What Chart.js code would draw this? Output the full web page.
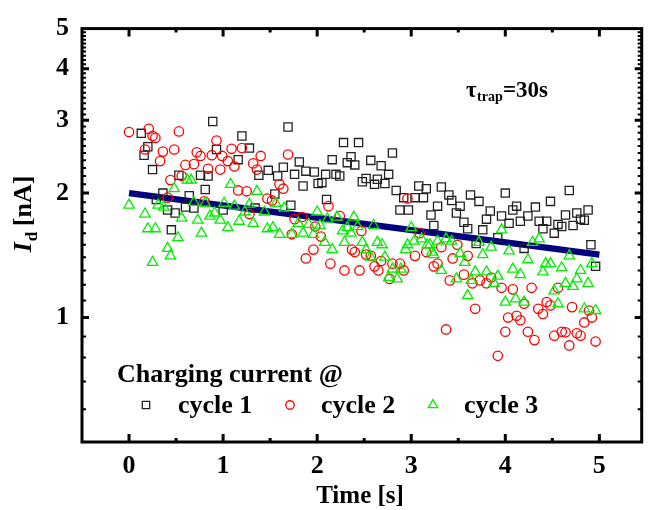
<!DOCTYPE html>
<html>
<head>
<meta charset="utf-8">
<script src="https://cdn.jsdelivr.net/npm/chart.js@4/dist/chart.umd.min.js"></script>
<style>
html,body{margin:0;padding:0;background:#fff;}
#wrap{width:649px;height:510px;}
</style>
</head>
<body>
<div id="wrap"><canvas id="c" width="649" height="510"></canvas></div>
<script>
// ---- data ----
const timeC1 = [0.13,0.16,0.20,0.25,0.29,0.36,0.41,0.45,0.49,0.53,0.60,0.64,0.69,0.76,0.81,0.84,0.89,0.93,1.00,1.16,1.20,1.28,1.34,1.38,1.48,1.55,1.58,1.64,1.69,1.72,1.76,1.81,1.85,1.88,1.97,2.01,2.05,2.09,2.10,2.16,2.20,2.24,2.28,2.32,2.36,2.40,2.44,2.48,2.52,2.57,2.61,2.64,2.68,2.72,2.76,2.80,2.84,2.88,2.92,2.97,3.04,3.08,3.13,3.16,3.21,3.24,3.28,3.32,3.40,3.43,3.48,3.52,3.56,3.60,3.63,3.69,3.72,3.76,3.80,3.84,3.92,3.96,4.00,4.04,4.08,4.12,4.16,4.20,4.24,4.32,4.36,4.40,4.44,4.48,4.52,4.56,4.60,4.64,4.68,4.72,4.76,4.80,4.84,4.88,4.91,4.96];
const currentC1 = [2.79,2.47,2.59,2.28,1.93,2.00,1.82,1.63,1.79,2.21,1.85,1.97,1.84,2.21,2.04,2.20,2.98,2.55,1.82,2.41,2.75,2.57,1.84,2.21,2.27,1.99,2.20,2.31,2.89,1.87,2.22,2.38,2.08,2.26,2.25,2.11,2.12,2.22,1.93,2.41,2.22,2.20,2.65,2.37,2.45,2.34,2.65,2.13,2.17,2.40,2.10,2.16,2.33,2.11,2.22,2.50,2.03,1.82,1.95,1.82,1.95,2.08,1.95,2.05,1.77,1.67,1.86,2.07,1.98,1.92,1.79,1.86,1.70,1.64,1.98,1.51,1.91,1.63,1.73,1.81,1.56,1.76,2.00,1.69,1.82,1.86,1.71,1.47,1.76,1.85,1.71,1.64,1.71,1.91,1.60,1.68,1.66,1.77,2.03,1.67,1.79,1.73,1.72,1.82,1.50,1.33];

const timeC2 = [0.00,0.17,0.21,0.25,0.28,0.33,0.36,0.41,0.44,0.48,0.53,0.56,0.60,0.69,0.72,0.76,0.80,0.84,0.88,0.93,0.97,0.99,1.05,1.09,1.12,1.16,1.20,1.25,1.28,1.32,1.36,1.40,1.47,1.52,1.60,1.64,1.69,1.73,1.76,1.84,1.88,1.96,1.98,2.04,2.12,2.14,2.24,2.29,2.37,2.40,2.45,2.47,2.52,2.57,2.61,2.65,2.68,2.77,2.80,2.88,2.92,2.96,3.04,3.09,3.16,3.24,3.28,3.32,3.37,3.41,3.44,3.49,3.56,3.60,3.65,3.68,3.73,3.80,3.85,3.92,3.96,4.00,4.03,4.08,4.12,4.16,4.20,4.24,4.28,4.31,4.35,4.40,4.44,4.48,4.52,4.56,4.60,4.64,4.68,4.71,4.76,4.80,4.84,4.89,4.92,4.96];
const currentC2 = [2.81,2.55,2.86,2.75,2.72,2.39,2.52,1.95,2.15,2.55,2.82,2.20,2.34,2.35,2.51,2.46,1.91,2.29,2.47,2.68,2.28,2.46,2.39,2.56,2.32,2.03,2.57,2.02,1.78,2.36,2.28,2.46,1.94,1.92,2.10,2.05,2.48,1.59,1.73,1.75,1.39,1.46,1.66,1.57,1.86,1.35,1.76,1.30,1.46,1.44,1.30,1.62,1.42,1.41,1.33,1.30,1.37,1.24,1.35,1.35,1.30,1.94,1.41,1.60,1.44,1.33,1.35,1.48,0.936,1.23,1.39,1.50,1.27,1.41,1.21,1.05,1.23,1.21,1.25,0.808,1.18,0.924,1.00,1.17,1.01,0.985,1.08,0.924,1.18,0.882,1.05,1.02,1.09,1.07,0.904,1.18,0.924,0.921,0.856,1.06,0.916,0.904,0.973,1.04,1.00,0.875];

const timeC3 = [0.00,0.17,0.20,0.25,0.28,0.31,0.37,0.41,0.44,0.48,0.52,0.56,0.62,0.66,0.69,0.73,0.77,0.81,0.86,0.91,0.97,1.01,1.05,1.08,1.12,1.17,1.23,1.28,1.32,1.36,1.44,1.47,1.53,1.56,1.60,1.65,1.73,1.80,1.85,1.91,1.96,2.00,2.03,2.08,2.11,2.16,2.21,2.27,2.29,2.32,2.36,2.39,2.43,2.48,2.52,2.57,2.60,2.64,2.69,2.72,2.76,2.80,2.85,2.89,2.94,2.96,3.00,3.03,3.11,3.17,3.20,3.22,3.24,3.28,3.32,3.37,3.43,3.48,3.52,3.57,3.60,3.64,3.68,3.72,3.76,3.80,3.85,3.88,3.92,3.96,4.00,4.04,4.08,4.11,4.16,4.20,4.24,4.29,4.36,4.40,4.43,4.48,4.52,4.56,4.60,4.64,4.68,4.72,4.76,4.80,4.84,4.88,4.92,4.96];
const currentC3 = [1.87,1.78,1.64,1.36,1.64,1.87,1.85,1.47,1.41,2.05,1.56,1.74,2.15,2.15,1.90,1.72,1.60,1.89,1.76,1.79,1.72,1.89,1.65,2.10,1.86,1.71,1.80,1.88,1.69,2.02,1.80,1.64,1.65,1.89,1.59,1.84,1.59,1.69,1.60,1.68,1.59,1.80,1.67,1.52,1.73,1.46,1.75,1.62,1.52,1.65,1.60,1.75,1.66,1.52,1.46,1.40,1.67,1.52,1.50,1.40,1.25,1.31,1.24,1.31,1.46,1.50,1.65,1.53,1.55,1.50,1.50,1.44,1.42,1.53,1.30,1.55,1.53,1.24,1.43,1.36,1.13,1.23,1.29,1.52,1.42,1.29,1.48,1.21,1.26,1.63,1.09,1.45,1.31,1.11,1.27,1.09,1.38,1.52,1.55,1.29,1.35,1.35,1.16,1.08,1.32,1.21,1.41,1.19,1.24,1.30,1.05,1.21,1.35,1.04];

const fitTime = [0, 5];
const fitCurrent = [2.0, 1.42];

const xTickValues = [0, 1, 2, 3, 4, 5];
const yTickValues = [1, 2, 3, 4, 5];
const seriesNames = ['cycle 1', 'cycle 2', 'cycle 3'];

// ---- helpers ----
const pts = (xs, ys) => xs.map((v, i) => ({x: v, y: ys[i]}));
const SERIF = "'Liberation Serif','Times New Roman',serif";

const decor = {
  id: 'decor',
  afterDatasetsDraw(chart) {
    const {ctx, chartArea: a, scales: {x, y}} = chart;
    ctx.save();
    ctx.strokeStyle = '#000';
    ctx.lineCap = 'butt';
    const xt = (v, len, w) => {
      const p = x.getPixelForValue(v);
      ctx.lineWidth = w;
      ctx.beginPath();
      ctx.moveTo(p, a.bottom); ctx.lineTo(p, a.bottom - len);
      ctx.moveTo(p, a.top); ctx.lineTo(p, a.top + len);
      ctx.stroke();
    };
    for (let v = 0; v <= 5; v++) xt(v, 8, 3);
    for (let v = -0.5; v <= 5.5; v += 1) if (v > x.min && v < x.max) xt(v, 4, 3);
    const yt = (v, len, w) => {
      const p = y.getPixelForValue(v);
      ctx.lineWidth = w;
      ctx.beginPath();
      ctx.moveTo(a.left, p); ctx.lineTo(a.left + len, p);
      ctx.moveTo(a.right, p); ctx.lineTo(a.right - len, p);
      ctx.stroke();
    };
    for (let k = 6; k < 50; k++) {
      const v = k / 10;
      if (v <= y.min || v >= y.max) continue;
      if (k % 10 === 0) yt(v, 7, 3); else yt(v, 4, 2);
    }
    ctx.lineWidth = 3;
    ctx.strokeRect(a.left, a.top, a.right - a.left, a.bottom - a.top);
    ctx.restore();
  },
  afterDraw(chart) {
    const {ctx} = chart;
    ctx.save();
    ctx.fillStyle = '#000';
    ctx.textBaseline = 'alphabetic';
    ctx.font = 'bold 25px ' + SERIF;
    ctx.textAlign = 'center';
    ctx.fillText('Time [s]', 360, 503);
    ctx.save();
    ctx.translate(31, 214);
    ctx.rotate(-Math.PI / 2);
    const f1 = 'italic bold 26px ' + SERIF, f2 = 'bold 17px ' + SERIF, f3 = 'bold 26px ' + SERIF;
    ctx.font = f1; const w1 = ctx.measureText('I').width;
    ctx.font = f2; const w2 = ctx.measureText('d').width;
    ctx.font = f3; const w3 = ctx.measureText(' [nA]').width;
    let sx = -(w1 + w2 + w3) / 2;
    ctx.textAlign = 'left';
    ctx.font = f1; ctx.fillText('I', sx, 0); sx += w1 + 1;
    ctx.font = f2; ctx.fillText('d', sx, 6); sx += w2 - 1;
    ctx.font = f3; ctx.fillText(' [nA]', sx, 0);
    ctx.restore();
    ctx.textAlign = 'left';
    ctx.font = 'bold 23px ' + SERIF;
    ctx.fillText('\u03C4', 466, 97);
    ctx.font = 'bold 14px ' + SERIF;
    ctx.fillText('trap', 477, 101);
    ctx.font = 'bold 23px ' + SERIF;
    ctx.fillText('=30s', 503, 97);
    ctx.font = 'bold 26px ' + SERIF;
    ctx.fillText('Charging current @', 117, 382);
    const ds = chart.data.datasets;
    const items = [
      {mx: 146, tx: 178, d: ds[1]},
      {mx: 290, tx: 321, d: ds[2]},
      {mx: 433, tx: 464, d: ds[3]}
    ];
    items.forEach((it, i) => {
      ctx.lineWidth = 1.3;
      ctx.strokeStyle = it.d.borderColor;
      ctx.fillStyle = 'rgba(0,0,0,0)';
      Chart.helpers.drawPoint(ctx, {pointStyle: it.d.pointStyle, radius: it.d.pointRadius * 0.9, borderWidth: 1.3}, it.mx, 405);
      ctx.fillStyle = '#000';
      ctx.font = 'bold 26px ' + SERIF;
      ctx.fillText(seriesNames[i], it.tx, 413);
    });
    ctx.restore();
  }
};

new Chart(document.getElementById('c'), {
  type: 'scatter',
  data: {
    datasets: [
      {label: 'fit', type: 'line', data: pts(fitTime, fitCurrent), borderColor: '#000080', borderWidth: 6.5, pointRadius: 0, showLine: true, fill: false, order: 4},
      {label: seriesNames[0], data: pts(timeC1, currentC1), pointStyle: 'rect', pointRadius: 5.8, borderColor: '#222222', backgroundColor: 'rgba(0,0,0,0)', borderWidth: 1.3, order: 3},
      {label: seriesNames[1], data: pts(timeC2, currentC2), pointStyle: 'circle', pointRadius: 4.7, borderColor: '#ff0000', backgroundColor: 'rgba(0,0,0,0)', borderWidth: 1.3, order: 2},
      {label: seriesNames[2], data: pts(timeC3, currentC3), pointStyle: 'triangle', pointRadius: 6, borderColor: '#00f000', backgroundColor: 'rgba(0,0,0,0)', borderWidth: 1.3, order: 1}
    ]
  },
  options: {
    responsive: false,
    animation: false,
    events: [],
    layout: {padding: {left: 0, top: 22, right: 2, bottom: 0}},
    plugins: {legend: {display: false}, tooltip: {enabled: false}},
    scales: {
      x: {
        type: 'linear', min: -0.5, max: 5.45,
        grid: {display: false, drawTicks: false},
        border: {display: false},
        afterBuildTicks: s => { s.ticks = xTickValues.map(v => ({value: v})); },
        afterFit: s => { s.height = 68; },
        ticks: {autoSkip: false, maxRotation: 0, padding: 9, color: '#000', font: {family: SERIF, size: 26, weight: 'bold'}, callback: v => String(v)}
      },
      y: {
        type: 'logarithmic', min: 0.5, max: 5,
        grid: {display: false, drawTicks: false},
        border: {display: false},
        afterBuildTicks: s => { s.ticks = yTickValues.map(v => ({value: v})); },
        afterFit: s => { s.width = 82; },
        ticks: {autoSkip: false, padding: 13, color: '#000', font: {family: SERIF, size: 26, weight: 'bold'}, callback: v => String(v)}
      }
    }
  },
  plugins: [decor]
});
</script>
</body>
</html>
